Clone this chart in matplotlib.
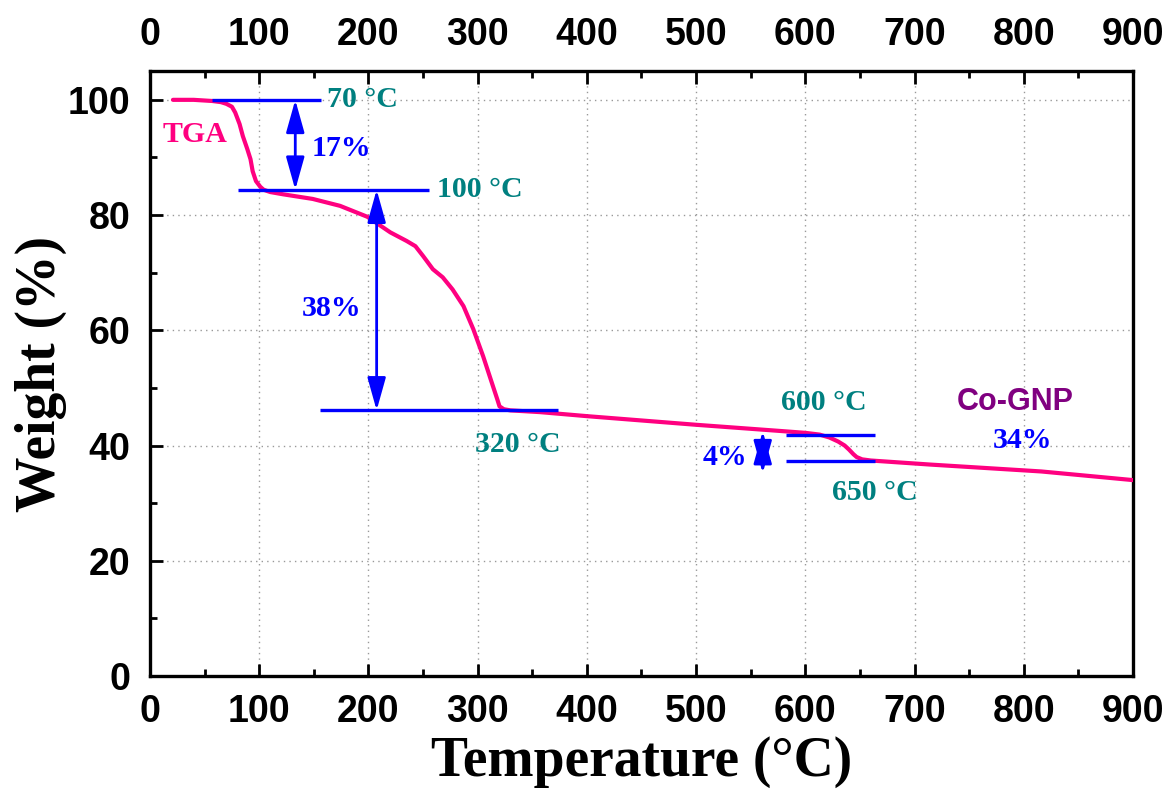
import matplotlib
matplotlib.use("Agg")
import matplotlib.pyplot as plt
from matplotlib.ticker import MultipleLocator

# ---- data ----
temperature = [21, 40, 57, 65, 70, 75, 78, 82, 85, 89, 92, 94, 97, 101, 104, 110, 122,
               149, 174, 199, 220, 235, 243, 250, 259, 268, 277, 287, 296, 305,
               314, 318, 320, 324, 330, 357, 400, 500, 579, 600, 613, 622, 630,
               636, 640, 644, 647, 652, 660, 714, 816, 900]
weight = [100, 100, 99.8, 99.6, 99.3, 98.8, 97.8, 95.8, 93.7, 91.5, 89.7, 87.6, 85.9,
          84.9, 84.4, 84.0, 83.6, 82.8, 81.6, 79.7, 77.0, 75.5, 74.6, 72.9, 70.6,
          69.2, 67.1, 64.2, 60.2, 55.5, 50.3, 48.0, 46.8, 46.3, 46.1, 45.8, 45.1,
          43.6, 42.5, 42.2, 41.9, 41.4, 40.7, 40.0, 39.3, 38.5, 38.0, 37.6, 37.4,
          36.7, 35.5, 34.0]

# step marker lines: (y, x_start, x_end)
step_lines_y = [100, 84.4, 46.1, 41.9, 37.4]
step_lines_x0 = [57, 81, 156, 582, 582]
step_lines_x1 = [157, 255, 374, 664, 664]

# double arrows: (x, y_top, y_bottom)
arrow_x = [133, 207.5, 561]
arrow_y0 = [100, 84.4, 42.5]
arrow_y1 = [84.4, 46.1, 35.2]

# temperature labels
temp_labels = ["70 °C", "100 °C", "320 °C", "600 °C", "650 °C"]
temp_label_x = [162, 263, 337, 617, 664]
temp_label_y = [100, 84.4, 40.2, 47.5, 31.8]
temp_label_ha = ["left", "left", "center", "center", "center"]

# percentage labels
pct_labels = ["17%", "38%", "4%", "34%"]
pct_label_x = [148, 166, 526, 799]
pct_label_y = [91.6, 63.7, 38.0, 40.9]
pct_label_ha = ["left", "center", "center", "center"]

x_ticks = [0, 100, 200, 300, 400, 500, 600, 700, 800, 900]
y_ticks = [0, 20, 40, 60, 80, 100]

PINK = "#FF0080"
BLUE = "#0000FF"
TEAL = "#008080"
PURPLE = "#800080"
SERIF = "Liberation Serif"
SANS = "Liberation Sans"

fig = plt.figure(figsize=(11.72, 7.91), dpi=100)
ax = fig.add_axes([0.128, 0.1454, 0.8387, 0.7648])

ax.plot(temperature, weight, color=PINK, lw=3.0, zorder=3,
        solid_joinstyle="round", solid_capstyle="round")

ax.hlines(step_lines_y, step_lines_x0, step_lines_x1, colors=BLUE, lw=2.4, zorder=4)

for x, y0, y1 in zip(arrow_x, arrow_y0, arrow_y1):
    ax.annotate("", xy=(x, y1), xytext=(x, y0),
                arrowprops=dict(arrowstyle="<|-|>,head_length=1.0,head_width=0.28",
                                color=BLUE, lw=2.0, shrinkA=0, shrinkB=0,
                                mutation_scale=20), zorder=5)

for t, x, y, ha in zip(temp_labels, temp_label_x, temp_label_y, temp_label_ha):
    ax.text(x, y, t, color=TEAL, fontsize=21.5, fontweight="bold", family=SERIF,
            ha=ha, va="center", zorder=6)

for t, x, y, ha in zip(pct_labels, pct_label_x, pct_label_y, pct_label_ha):
    ax.text(x, y, t, color=BLUE, fontsize=21.5, fontweight="bold", family=SERIF,
            ha=ha, va="center", zorder=6)

ax.text(41, 94, "TGA", color=PINK, fontsize=21.5, fontweight="bold", family=SERIF,
        ha="center", va="center")
ax.text(792, 47.5, "Co-GNP", color=PURPLE, fontsize=22, fontweight="bold", family=SANS,
        ha="center", va="center")

ax.set_xlim(0, 900)
ax.set_ylim(0, 105)
ax.set_xticks(x_ticks)
ax.set_yticks(y_ticks)
ax.xaxis.set_minor_locator(MultipleLocator(50))
ax.yaxis.set_minor_locator(MultipleLocator(10))

ax.grid(True, which="major", color="#999999", ls=(0, (1, 3)), lw=1.0, zorder=0)

for s in ax.spines.values():
    s.set_linewidth(2.4)

ax.tick_params(axis="both", which="major", direction="in", length=9, width=2,
               labelsize=27)
ax.tick_params(axis="both", which="minor", direction="in", length=5, width=2)
ax.tick_params(axis="x", which="both", top=True, labeltop=True, pad=13)
ax.tick_params(axis="y", which="both", right=False, pad=14)
for lab in ax.get_xticklabels() + ax.get_yticklabels():
    lab.set_fontfamily(SANS)
    lab.set_fontweight("bold")

ax.set_xlabel("Temperature (°C)", fontsize=40, fontweight="bold", family=SERIF, labelpad=4)
ax.set_ylabel("Weight (%)", fontsize=40, fontweight="bold", family=SERIF, labelpad=1)

fig.savefig("out.png", dpi=100)
